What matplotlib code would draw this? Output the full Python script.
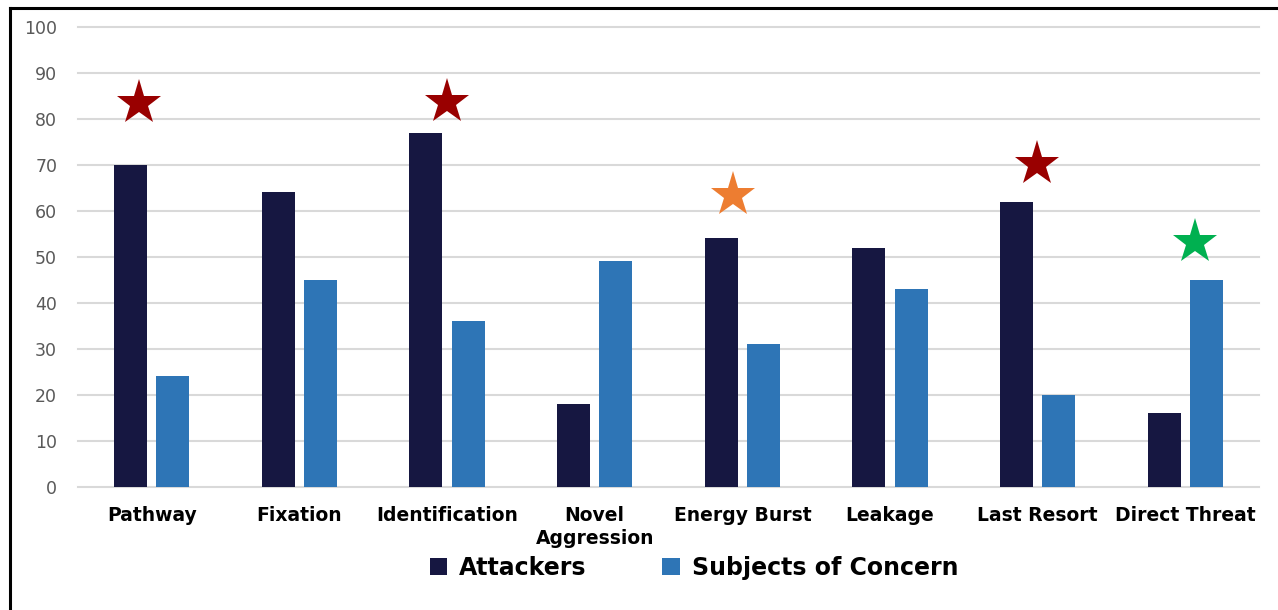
import matplotlib.pyplot as plt
from matplotlib.patches import Patch
from matplotlib.lines import Line2D
import numpy as np

categories = ["Pathway", "Fixation", "Identification", "Novel\nAggression",
              "Energy Burst", "Leakage", "Last Resort", "Direct Threat"]
attackers = [70, 64, 77, 18, 54, 52, 62, 16]
subjects = [24, 45, 36, 49, 31, 43, 20, 45]
yticks = [0, 10, 20, 30, 40, 50, 60, 70, 80, 90, 100]

# highlight stars: category position, height, colour
star_x = [-0.085, 1.998, 3.939, 5.994, 7.064]
star_y = [83.5, 83.6, 63.4, 70.2, 53.1]
star_colors = ["#990000", "#990000", "#ED7D31", "#990000", "#00B050"]

c_att = "#161741"
c_sub = "#2E75B6"

fig = plt.figure(figsize=(12.78, 6.10), dpi=100)
W, H = 1278, 610
ax = fig.add_axes([78 / W, 1 - 486.7 / H, (1259 - 78) / W, (486.7 - 26.7) / H])

x = np.arange(len(categories))
bw = 0.224
off = 0.143
ax.bar(x - off, attackers, width=bw, color=c_att, zorder=3)
ax.bar(x + off, subjects, width=bw, color=c_sub, zorder=3)

for sx, sy, sc in zip(star_x, star_y, star_colors):
    ax.plot(sx, sy, marker="*", markersize=34, color=sc, markeredgewidth=0, zorder=4)

ax.set_xlim(-0.5, len(categories) - 0.5)
ax.set_ylim(0, 100)
ax.set_yticks(yticks)
ax.yaxis.grid(True, color="#D9D9D9", linewidth=1.5, zorder=0)
for gl in ax.get_ygridlines():
    gl.set_clip_on(False)
ax.set_axisbelow(True)
for s in ax.spines.values():
    s.set_visible(False)
ax.tick_params(axis="y", length=0, pad=15, labelsize=12.5, labelcolor="#595959")
ax.tick_params(axis="x", length=0, pad=14)
ax.set_xticks(x)
ax.set_xticklabels(categories, fontsize=13.5, fontweight="bold", color="black",
                   linespacing=1.25, va="top")

handles = [Patch(facecolor=c_att, label="Attackers"),
           Patch(facecolor=c_sub, label="Subjects of Concern")]
fig.legend(handles=handles, loc="center", bbox_to_anchor=(694 / W, 1 - 568 / H),
           ncol=2, frameon=False, prop={"size": 17, "weight": "bold"},
           handlelength=0.75, handleheight=0.75, handletextpad=0.5, columnspacing=3.2)

# frame lines along the top and left edges
fig.add_artist(Line2D([9.5 / W, 1], [1 - 8 / H, 1 - 8 / H], color="black", linewidth=2.2,
                      transform=fig.transFigure))
fig.add_artist(Line2D([10 / W, 10 / W], [0, 1 - 8 / H], color="black", linewidth=2.2,
                      transform=fig.transFigure))

fig.savefig("out.png", dpi=100, facecolor="white")
